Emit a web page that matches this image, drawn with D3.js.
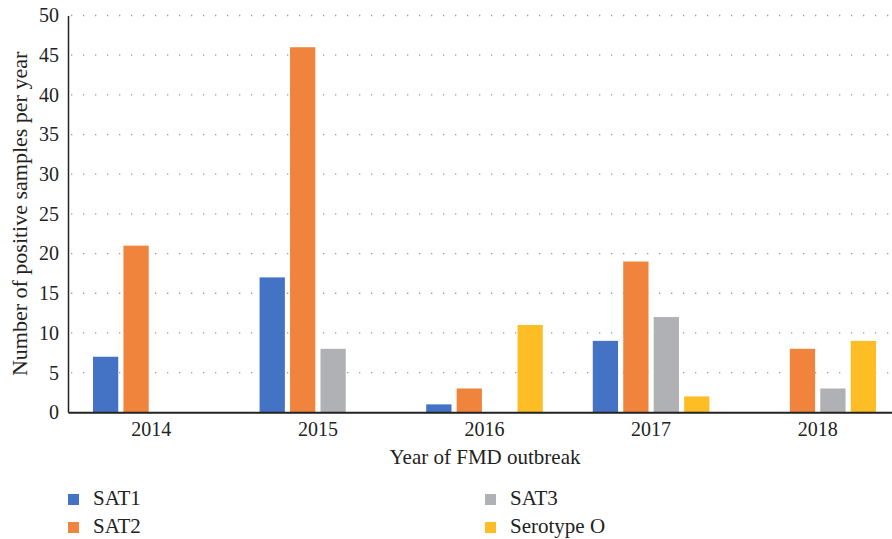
<!DOCTYPE html>
<html>
<head>
<meta charset="utf-8">
<script src="https://cdn.jsdelivr.net/npm/d3@7"></script>
<style>
  body { margin: 0; background: #fff; }
  svg text { font-family: "Liberation Serif", "Times New Roman", serif !important; }
</style>
</head>
<body>
<div id="app"></div>
<script>
const years = ['2014', '2015', '2016', '2017', '2018']
const series = ['SAT1', 'SAT2', 'SAT3', 'Serotype O']
const sat1 = [7, 17, 1, 9, 0]
const sat2 = [21, 46, 3, 19, 8]
const sat3 = [0, 8, 0, 12, 3]
const serotypeO = [0, 0, 11, 2, 9]
const yTicks = [0, 5, 10, 15, 20, 25, 30, 35, 40, 45, 50]
const colors = ['#4472C4', '#F0843D', '#B0B1B4', '#FDBD25']

const W = 892, H = 539
const mLeft = 68, mTop = 15.5, mBottom = 412.3

const values = [sat1, sat2, sat3, serotypeO]
const data = years.map((y, i) => ({ year: y, vals: series.map((s, j) => ({ key: s, value: values[j][i] })) }))

const svg = d3.select('#app').append('svg').attr('width', W).attr('height', H).style('display', 'block')

const x0 = d3.scaleBand().domain(years).range([mLeft, 901]).paddingInner(0.3).paddingOuter(0.15)
const x1 = d3.scaleBand().domain(series).range([0, x0.bandwidth()]).paddingInner(0.17)
const y = d3.scaleLinear().domain([0, 50]).range([mBottom, mTop])

// dotted gridlines
svg.append('g').selectAll('line').data(yTicks.filter(d => d > 0)).join('line')
  .attr('x1', mLeft + 3).attr('x2', W)
  .attr('y1', d => y(d)).attr('y2', d => y(d))
  .attr('stroke', '#9a9a9a').attr('stroke-width', 1.3)
  .attr('stroke-dasharray', '1.3,10.7')

// bars
const g = svg.append('g').selectAll('g').data(data).join('g')
  .attr('transform', d => `translate(${x0(d.year)},0)`)
g.selectAll('rect').data(d => d.vals.filter(v => v.value > 0)).join('rect')
  .attr('x', d => x1(d.key))
  .attr('width', x1.bandwidth())
  .attr('y', d => y(d.value))
  .attr('height', d => y(0) - y(d.value))
  .attr('fill', d => colors[series.indexOf(d.key)])

// y axis
const yAxis = svg.append('g').attr('transform', `translate(${mLeft},0)`)
  .call(d3.axisLeft(y).tickValues(yTicks).tickSize(0).tickPadding(9))
yAxis.select('.domain').attr('stroke', '#222').attr('stroke-width', 1.5)
yAxis.selectAll('text').attr('font-size', 20).attr('fill', '#222')

// x axis
const xAxis = svg.append('g').attr('transform', `translate(0,${mBottom})`)
  .call(d3.axisBottom(x0).tickSize(0).tickPadding(10))
xAxis.select('.domain').attr('stroke', '#222').attr('stroke-width', 2)
xAxis.selectAll('text').attr('font-size', 20).attr('fill', '#222')

// axis titles
svg.append('text')
  .attr('transform', `translate(27,${(mTop + mBottom) / 2}) rotate(-90)`)
  .attr('text-anchor', 'middle')
  .attr('font-size', 22).attr('fill', '#222')
  .text('Number of positive samples per year')

svg.append('text')
  .attr('x', 485).attr('y', 464)
  .attr('text-anchor', 'middle')
  .attr('font-size', 21).attr('fill', '#222')
  .text('Year of FMD outbreak')

// legend
const legendPos = [[68, 494], [68, 522], [485, 494], [485, 522]]
const lg = svg.append('g').selectAll('g').data(series).join('g')
  .attr('transform', (d, i) => `translate(${legendPos[i][0]},${legendPos[i][1]})`)
lg.append('rect').attr('width', 11).attr('height', 11).attr('fill', (d, i) => colors[i])
lg.append('text').attr('x', 25).attr('y', 11)
  .attr('font-size', 21).attr('fill', '#222')
  .text(d => d)
</script>
</body>
</html>
